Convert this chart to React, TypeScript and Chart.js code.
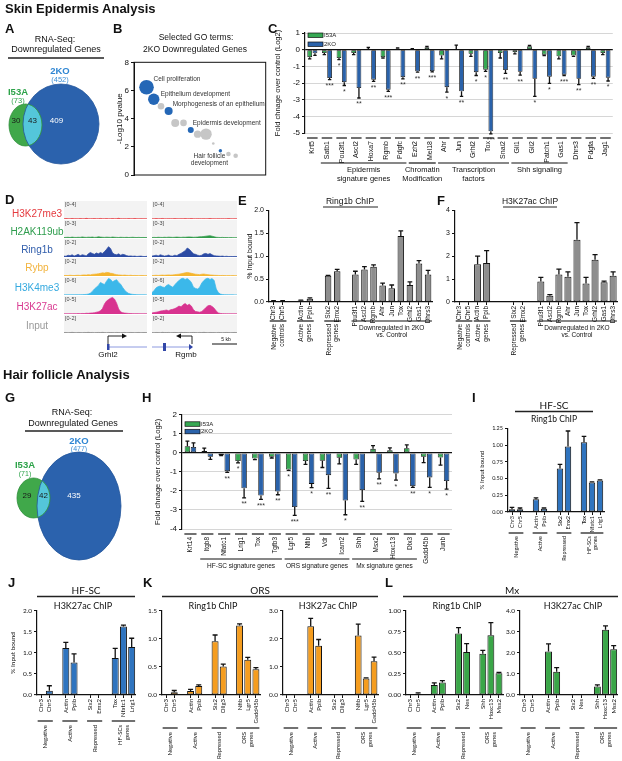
import React, { useEffect, useRef } from 'react';
import { Chart, registerables } from 'chart.js';
Chart.register(...registerables);

const SANS = '"Liberation Sans", Arial, sans-serif';
const HUM = 'Lato, "Liberation Sans", sans-serif';
Chart.defaults.font.family = SANS;
Chart.defaults.color = '#111';

// ---------------- DATA ----------------
// Venn A / G
const vennANames = ['I53A', '2KO'];
const vennATotals = [73, 452];
const vennAParts = [30, 43, 409];
const vennGTotals = [71, 477];
const vennGParts = [29, 42, 435];

// B: GO terms bubbles
const goTerms = ['Cell proliferation', 'Epithelium development', '', 'Morphogenesis of an epithelium', '', '', 'Epidermis development', '', '', '', 'Hair follicle|development', '', ''];
const goX = [9.5, 15.0, 20.5, 26.3, 31.3, 37.6, 43.1, 48.3, 54.7, 60.2, 65.6, 71.7, 77.2];
const goY = [6.23, 5.38, 4.88, 4.55, 3.7, 3.7, 3.19, 2.9, 2.9, 2.24, 1.72, 1.49, 1.37];
const goR = [7.3, 5.7, 3.3, 4, 4, 3.3, 3, 3.7, 5.7, 1.3, 1.7, 2.3, 2.3];
const goSig = [1, 1, 0, 1, 0, 0, 1, 0, 0, 0, 1, 0, 0];

// C: skin fold change
const cGenes = ['Krt5', 'Satb1', 'Pou3f1', 'Ascl2', 'Hoxa7', 'Rgmb', 'Pdgfc', 'Ezh2', 'Mel18', 'Ahr', 'Jun', 'Grhl2', 'Tox', 'Snai2', 'Gli1', 'Gli2', 'Patch1', 'Gas1', 'Dhrs3', 'Pdgfa', 'Jag1'];
const cI53A = [-0.45, -0.2, -0.5, -0.2, 0.03, -0.45, 0.05, 0.03, 0.15, -0.35, 0.02, -0.25, -1.2, -0.2, -0.15, 0.2, -0.3, -0.4, -0.35, 0.15, -0.2];
const cI53AErr = [0.1, 0.1, 0.1, 0.1, 0.1, 0.05, 0.05, 0.03, 0.05, 0.2, 0.25, 0.15, 0.1, 0.3, 0.1, 0.05, 0.05, 0.15, 0.05, 0.05, 0.1];
const c2KO = [-0.22, -1.7, -1.95, -2.3, -1.8, -2.4, -1.65, -1.3, -1.28, -2.25, -2.5, -1.35, -4.9, -1.22, -1.33, -1.75, -1.62, -1.5, -1.75, -1.62, -1.68];
const c2KOErr = [0.12, 0.1, 0.2, 0.6, 0.1, 0.1, 0.1, 0.05, 0.05, 0.3, 0.3, 0.2, 0.15, 0.2, 0.2, 1.05, 0.4, 0.05, 0.35, 0.1, 0.2];
const cI53AStars = ['', '', '*', '', '', '', '', '', '', '', '', '', '*', '', '', '', '', '', '', '', ''];
const c2KOStars = ['', '***', '*', '**', '**', '***', '**', '**', '***', '*', '**', '*', '***', '**', '**', '*', '*', '***', '**', '**', '*'];
const cGroups = [
  { from: 1, to: 6, lines: ['Epidermis', 'signature genes'], rot: false },
  { from: 7, to: 8, lines: ['Chromatin', 'Modification'], rot: false },
  { from: 9, to: 13, lines: ['Transcription', 'factors'], rot: false },
  { from: 14, to: 17, lines: ['Shh signaling'], rot: false },
];

// D: genome tracks
const trackNames = ['H3K27me3', 'H2AK119ub', 'Ring1b', 'Rybp', 'H3K4me3', 'H3K27ac', 'Input'];
const trackMax = [4, 3, 2, 2, 6, 5, 2];
const grhl2K27me3 = [0.05, 0.1, 0.06, 0.04, 0.12, 0.05, 0.08, 0.04, 0.1, 0.06, 0.05, 0.14, 0.06, 0.05, 0.08, 0.1, 0.05, 0.07, 0.12, 0.06, 0.05, 0.09, 0.04, 0.06, 0.1, 0.05, 0.08, 0.15, 0.06, 0.05, 0.07, 0.04, 0.09, 0.05, 0.06, 0.12, 0.05, 0.04, 0.08, 0.05, 0.06, 0.04];
const grhl2H2a = [0.08, 0.1, 0.12, 0.08, 0.15, 0.1, 0.09, 0.12, 0.1, 0.18, 0.12, 0.1, 0.14, 0.12, 0.16, 0.1, 0.12, 0.2, 0.15, 0.12, 0.1, 0.14, 0.12, 0.1, 0.16, 0.12, 0.1, 0.08, 0.12, 0.1, 0.09, 0.11, 0.08, 0.1, 0.12, 0.09, 0.08, 0.1, 0.07, 0.09, 0.08, 0.07];
const grhl2Ring1b = [0.1, 0.08, 0.2, 0.15, 0.25, 0.1, 0.2, 0.3, 0.15, 0.25, 0.2, 0.12, 0.35, 0.5, 0.4, 0.3, 0.45, 0.35, 0.5, 0.4, 0.6, 0.85, 1.15, 0.95, 0.45, 0.3, 0.25, 0.35, 0.2, 0.3, 0.25, 0.15, 0.1, 0.12, 0.08, 0.1, 0.06, 0.08, 0.1, 0.06, 0.05, 0.08];
const grhl2Rybp = [0.05, 0.06, 0.05, 0.08, 0.06, 0.05, 0.07, 0.08, 0.06, 0.1, 0.12, 0.1, 0.15, 0.12, 0.18, 0.2, 0.22, 0.25, 0.3, 0.35, 0.32, 0.4, 0.38, 0.3, 0.28, 0.2, 0.15, 0.12, 0.1, 0.08, 0.1, 0.07, 0.06, 0.08, 0.05, 0.06, 0.05, 0.04, 0.06, 0.05, 0.04, 0.05];
const grhl2K4me3 = [0.05, 0.05, 0.06, 0.05, 0.08, 0.06, 0.1, 0.08, 0.1, 0.12, 0.15, 0.2, 0.3, 0.6, 1.2, 2.0, 2.6, 3.2, 4.2, 3.8, 3.5, 4.6, 5.5, 5.2, 4.4, 4.8, 5.1, 4.2, 3.6, 2.5, 1.6, 0.9, 0.5, 0.3, 0.2, 0.15, 0.1, 0.08, 0.06, 0.05, 0.05, 0.04];
const grhl2K27ac = [0.05, 0.06, 0.05, 0.08, 0.06, 0.1, 0.08, 0.12, 0.1, 0.15, 0.12, 0.2, 0.18, 0.25, 0.3, 0.35, 0.5, 0.6, 0.9, 1.5, 2.8, 3.6, 4.0, 4.4, 4.6, 4.1, 3.0, 1.4, 0.6, 0.35, 0.25, 0.2, 0.15, 0.12, 0.1, 0.08, 0.1, 0.07, 0.06, 0.05, 0.06, 0.05];
const grhl2Input = [0.05, 0.06, 0.04, 0.05, 0.07, 0.05, 0.04, 0.06, 0.05, 0.04, 0.06, 0.05, 0.07, 0.05, 0.06, 0.04, 0.05, 0.06, 0.05, 0.07, 0.05, 0.04, 0.06, 0.05, 0.05, 0.04, 0.06, 0.05, 0.04, 0.05, 0.06, 0.04, 0.05, 0.06, 0.05, 0.04, 0.05, 0.06, 0.04, 0.05, 0.05, 0.04];
const rgmbK27me3 = [0.06, 0.04, 0.1, 0.05, 0.07, 0.12, 0.05, 0.04, 0.08, 0.06, 0.05, 0.1, 0.06, 0.04, 0.07, 0.05, 0.09, 0.05, 0.06, 0.11, 0.05, 0.04, 0.07, 0.06, 0.05, 0.08, 0.04, 0.06, 0.12, 0.05, 0.06, 0.04, 0.08, 0.05, 0.07, 0.04, 0.06, 0.1, 0.05, 0.04, 0.06, 0.05];
const rgmbH2a = [0.08, 0.1, 0.08, 0.12, 0.1, 0.09, 0.12, 0.1, 0.14, 0.12, 0.1, 0.12, 0.15, 0.12, 0.1, 0.14, 0.12, 0.16, 0.18, 0.15, 0.12, 0.14, 0.16, 0.2, 0.22, 0.25, 0.3, 0.35, 0.38, 0.3, 0.2, 0.12, 0.1, 0.08, 0.1, 0.07, 0.08, 0.06, 0.07, 0.06, 0.05, 0.06];
const rgmbRing1b = [0.1, 0.15, 0.2, 0.12, 0.25, 0.18, 0.1, 0.15, 0.22, 0.12, 0.1, 0.2, 0.15, 0.3, 0.4, 0.55, 0.7, 1.0, 0.85, 0.6, 0.35, 0.3, 0.2, 0.15, 0.2, 0.35, 0.4, 0.3, 0.38, 0.25, 0.15, 0.12, 0.1, 0.08, 0.1, 0.06, 0.08, 0.05, 0.06, 0.05, 0.06, 0.05];
const rgmbRybp = [0.05, 0.06, 0.08, 0.06, 0.08, 0.1, 0.08, 0.1, 0.12, 0.1, 0.12, 0.15, 0.18, 0.2, 0.25, 0.3, 0.35, 0.4, 0.35, 0.3, 0.25, 0.2, 0.18, 0.15, 0.2, 0.22, 0.18, 0.15, 0.12, 0.1, 0.08, 0.07, 0.06, 0.05, 0.06, 0.05, 0.04, 0.05, 0.04, 0.05, 0.04, 0.04];
const rgmbK4me3 = [0.8, 1.5, 2.4, 2.8, 3.0, 2.7, 2.5, 3.2, 3.5, 3.0, 2.6, 3.4, 4.2, 4.8, 5.4, 5.6, 5.2, 5.5, 5.0, 4.2, 2.6, 2.2, 2.0, 2.6, 4.0, 4.8, 5.4, 5.6, 5.2, 5.5, 4.8, 2.0, 0.8, 0.3, 0.15, 0.1, 0.08, 0.06, 0.05, 0.05, 0.04, 0.04];
const rgmbK27ac = [0.3, 0.4, 0.5, 0.6, 0.8, 0.9, 1.0, 1.1, 0.9, 1.2, 1.3, 1.5, 1.8, 2.2, 2.0, 2.6, 2.9, 2.4, 2.7, 2.2, 1.2, 0.7, 0.6, 0.5, 0.7, 1.2, 1.8, 2.3, 2.4, 2.1, 1.6, 0.8, 0.3, 0.15, 0.1, 0.08, 0.06, 0.05, 0.05, 0.04, 0.04, 0.04];
const rgmbInput = [0.05, 0.04, 0.06, 0.05, 0.04, 0.07, 0.05, 0.05, 0.06, 0.04, 0.05, 0.06, 0.05, 0.04, 0.07, 0.05, 0.06, 0.05, 0.04, 0.05, 0.06, 0.05, 0.04, 0.06, 0.05, 0.07, 0.05, 0.04, 0.06, 0.05, 0.05, 0.04, 0.06, 0.05, 0.04, 0.05, 0.06, 0.05, 0.04, 0.05, 0.06, 0.04];
const grhl2Tracks = [grhl2K27me3, grhl2H2a, grhl2Ring1b, grhl2Rybp, grhl2K4me3, grhl2K27ac, grhl2Input];
const rgmbTracks = [rgmbK27me3, rgmbH2a, rgmbRing1b, rgmbRybp, rgmbK4me3, rgmbK27ac, rgmbInput];

// E / F
const eLabels = ['Chr3', 'Chr5', '', 'Actin', 'Ppib', '', 'Six2', 'Emx2', '', 'Pou3f1', 'Ascl2', 'Rgmb', 'Ahr', 'Jun', 'Tox', 'Grhl2', 'Gas1', 'Dhrs3'];
const eVals = [0.02, 0.02, null, 0.03, 0.07, null, 0.57, 0.67, null, 0.6, 0.71, 0.77, 0.36, 0.3, 1.44, 0.37, 0.84, 0.6];
const eErr = [0.01, 0.01, 0, 0.01, 0.02, 0, 0.01, 0.04, 0, 0.07, 0.06, 0.04, 0.05, 0.07, 0.11, 0.07, 0.06, 0.09];
const eGroups = [
  { from: 0, to: 1, lines: ['Negative', 'controls'], rot: true },
  { from: 3, to: 4, lines: ['Active', 'genes'], rot: true },
  { from: 6, to: 7, lines: ['Repressed', 'genes'], rot: true },
  { from: 9, to: 17, lines: ['Downregulated in 2KO', 'vs. Control'], rot: false, dy: 26 },
];
const fLabels = ['Chr3', 'Chr5', 'Actin', 'Ppib', '', '', 'Six2', 'Emx2', '', 'Pou3f1', 'Ascl2', 'Rgmb', 'Ahr', 'Jun', 'Tox', 'Grhl2', 'Gas1', 'Dhrs3'];
const fVals = [0, 0, 1.64, 1.7, null, null, 0, 0, null, 0.89, 0.27, 1.2, 1.1, 2.71, 0.81, 1.84, 0.86, 1.14];
const fErr = [0, 0, 0.36, 0.54, 0, 0, 0, 0, 0, 0.18, 0.05, 0.23, 0.21, 0.75, 0.26, 0.22, 0.05, 0.17];
const fGroups = [
  { from: 0, to: 1, lines: ['Negative', 'controls'], rot: true },
  { from: 2, to: 3, lines: ['Active', 'genes'], rot: true },
  { from: 6, to: 7, lines: ['Repressed', 'genes'], rot: true },
  { from: 9, to: 17, lines: ['Downregulated in 2KO', 'vs. Control'], rot: false, dy: 26 },
];

// H: hair follicle fold change
const hGenes = ['Krt14', 'Itgb8', 'Nfatc1', 'Lrig1', 'Tox', 'Tgfb3', 'Lgr5', 'Nfib', 'Vdr', 'Icam2', 'Shh', 'Msx2', 'Hoxc13', 'Dlx3', 'Gadd45b', 'Junb'];
const hI53A = [0.35, 0.1, -0.12, -0.43, -0.3, -0.21, -0.87, -0.43, -0.42, -0.26, -0.35, 0.21, 0.14, 0.24, -0.21, -0.24];
const hI53AErr = [0.27, 0.15, 0.03, 0.1, 0.05, 0.06, 0.05, 0.17, 0.35, 0.32, 0.25, 0.17, 0.12, 0.18, 0.3, 0.4];
const h2KO = [0.31, -0.21, -0.96, -1.86, -2.24, -2.03, -2.85, -1.63, -1.17, -2.5, -1.95, -1.04, -1.08, -1.74, -1.29, -1.48];
const h2KOErr = [0.21, 0.13, 0.06, 0.5, 0.2, 0.17, 0.43, 0.2, 0.7, 0.75, 0.6, 0.33, 0.35, 0.07, 0.52, 0.43];
const hI53AStars = ['', '', '', '*', '', '', '*', '', '', '', '', '', '', '', '', ''];
const h2KOStars = ['', '', '**', '**', '***', '**', '***', '*', '**', '*', '**', '**', '*', '**', '*', '*'];
const hGroups = [
  { from: 1, to: 5, lines: ['HF-SC signature genes'], rot: false },
  { from: 6, to: 9, lines: ['ORS signature genes'], rot: false },
  { from: 10, to: 13, lines: ['Mx signature genes'], rot: false },
];

// I / J: HF-SC
const hfscLabels = ['Chr3', 'Chr5', '', 'Actin', 'Ppib', '', 'Six2', 'Emx2', '', 'Tox', 'Nfatc1', 'Lrig1'];
const iRing1b = [0.04, 0.04, null, 0.19, 0.05, null, 0.65, 0.98, null, 1.04, 0.44, 0.47];
const iRing1bErr = [0.03, 0.02, 0, 0.02, 0.01, 0, 0.06, 0.23, 0, 0.09, 0.01, 0.01];
const jK27ac = [0, 0.1, null, 1.12, 0.77, null, 0, 0.005, null, 0.88, 1.63, 1.14];
const jK27acErr = [0, 0.12, 0, 0.13, 0.21, 0, 0, 0, 0, 0.23, 0.03, 0.21];
const hfscGroups = [
  { from: 0, to: 1, lines: ['Negative'], rot: true },
  { from: 3, to: 4, lines: ['Active'], rot: true },
  { from: 6, to: 7, lines: ['Repressed'], rot: true },
  { from: 9, to: 11, lines: ['HF-SCs', 'genes'], rot: true },
];

// K: ORS
const orsLabels = ['Chr3', 'Chr5', '', 'Actin', 'Ppib', '', 'Six2', 'Olig3', '', 'Nfib', 'Lgr5', 'Gadd45b'];
const kRing1b = [0, 0.05, null, 0.07, 0.16, null, 0.96, 0.51, null, 1.24, 0.63, 0.46];
const kRing1bErr = [0, 0.03, 0, 0.03, 0.02, 0, 0.11, 0.04, 0, 0.03, 0.04, 0.03];
const kK27ac = [0, 0, null, 2.45, 1.76, null, 0, 0, null, 2.12, 0.59, 1.2];
const kK27acErr = [0, 0, 0, 0.28, 0.22, 0, 0, 0, 0, 0.41, 0.02, 0.15];
const orsGroups = [
  { from: 0, to: 1, lines: ['Negative'], rot: true },
  { from: 3, to: 4, lines: ['Active'], rot: true },
  { from: 6, to: 7, lines: ['Repressed'], rot: true },
  { from: 9, to: 11, lines: ['ORS', 'genes'], rot: true },
];

// L: Mx
const mxLabels = ['Chr3', 'Chr5', '', 'Actin', 'Ppib', '', 'Six2', 'Nes', '', 'Shh', 'Hoxc13', 'Msx2'];
const lRing1b = [0.005, 0.015, null, 0.12, 0.15, null, 0.73, 0.51, null, 0.49, 0.71, 0.26];
const lRing1bErr = [0, 0.01, 0, 0.025, 0.02, 0, 0.07, 0.1, 0, 0.04, 0.15, 0.01];
const lK27ac = [0, 0, null, 2.07, 1.1, null, 0.01, 0, null, 0.41, 3.1, 2.18];
const lK27acErr = [0, 0, 0, 0.36, 0.2, 0, 0, 0, 0, 0.07, 0.19, 0.17];

// ---------------- STYLE ----------------
const GREEN = '#36a853';
const BLUE = '#2a62aa';
const GRAY = '#8e8e8e';
const BLUE2 = '#2f74bf';
const ORANGE = '#f59d1f';
const GREEN2 = '#3aa648';
const trackColors = ['#e8383d', '#2f9a48', '#2b4aa3', '#f5b52e', '#3bb8ea', '#d8338f', '#8a8a8a'];
const trackLabelColors = ['#e53a3f', '#2e9d4d', '#2f5cab', '#f2b33d', '#35a9df', '#d93a91', '#9a9a9a'];

type Series = { data: (number | null)[]; err: number[]; color: string; stars?: string[] };
type Group = { from: number; to: number; lines: string[]; rot: boolean; dy?: number };

function barExtras(s: any) {
  return {
    id: 'barExtras',
    afterDraw(chart: any) {
      const ctx: CanvasRenderingContext2D = chart.ctx;
      const ca = chart.chartArea;
      const xs = chart.scales.x;
      const ys = chart.scales.y;
      const fam = s.family || SANS;
      const slot = xs.getPixelForTick(1) - xs.getPixelForTick(0);
      ctx.save();
      if (s.segAxis) {
        ctx.strokeStyle = '#111';
        ctx.lineWidth = 1.2;
        s.labels.forEach((lb: string, i: number) => {
          if (!lb) return;
          const px = xs.getPixelForTick(i);
          ctx.beginPath();
          ctx.moveTo(px - slot * 0.36, ca.bottom + 5);
          ctx.lineTo(px + slot * 0.36, ca.bottom + 5);
          ctx.stroke();
        });
      }
      s.series.forEach((se: Series, di: number) => {
        const meta = chart.getDatasetMeta(di);
        meta.data.forEach((el: any, i: number) => {
          const v = se.data[i];
          if (v === null || v === undefined) return;
          const e = se.err[i] || 0;
          const dir = v < 0 ? -1 : 1;
          const y0 = ys.getPixelForValue(v);
          const y1 = ys.getPixelForValue(v + dir * e);
          if (e > 0) {
            const hw = el.width * 0.36;
            ctx.strokeStyle = '#111';
            ctx.lineWidth = 1.3;
            ctx.beginPath();
            ctx.moveTo(el.x, y0);
            ctx.lineTo(el.x, y1);
            ctx.moveTo(el.x - hw, y1);
            ctx.lineTo(el.x + hw, y1);
            ctx.stroke();
          }
          const st = se.stars && se.stars[i];
          if (st) {
            ctx.fillStyle = '#333';
            ctx.font = `7px ${fam}`;
            ctx.textAlign = 'center';
            ctx.textBaseline = 'middle';
            ctx.fillText(st, el.x, y1 + 6.5);
          }
        });
      });
      if (s.legend) {
        const [lx, ly, step] = s.legendPos;
        s.legend.forEach((name: string, k: number) => {
          const x0 = ca.left + lx;
          const y0 = ca.top + ly + k * step;
          ctx.fillStyle = s.series[k].color;
          ctx.fillRect(x0, y0, 15, 4.5);
          ctx.strokeStyle = '#111';
          ctx.lineWidth = 0.7;
          ctx.strokeRect(x0, y0, 15, 4.5);
          ctx.fillStyle = '#222';
          ctx.font = `6px ${fam}`;
          ctx.textAlign = 'left';
          ctx.textBaseline = 'middle';
          ctx.fillText(name, x0 + 16, y0 + 2.5);
        });
      }
      if (s.groups) {
        ctx.fillStyle = '#111';
        ctx.strokeStyle = '#111';
        ctx.lineWidth = 1.2;
        ctx.font = `${s.gSize}px ${fam}`;
        s.groups.forEach((g: Group) => {
          const x1 = xs.getPixelForTick(g.from) - slot * 0.42;
          const x2 = xs.getPixelForTick(g.to) + slot * 0.42;
          const ly = ca.bottom + s.gLineDy;
          ctx.beginPath();
          ctx.moveTo(x1, ly);
          ctx.lineTo(x2, ly);
          ctx.stroke();
          const cx = (x1 + x2) / 2;
          const n = g.lines.length;
          g.lines.forEach((tx, k) => {
            if (g.rot) {
              const px = cx + (k - (n - 1) / 2) * s.gLH;
              ctx.save();
              ctx.translate(px, ca.bottom + s.gTextDy);
              ctx.rotate(-Math.PI / 2);
              ctx.textAlign = 'right';
              ctx.textBaseline = 'middle';
              ctx.fillText(tx, 0, 0);
              ctx.restore();
            } else {
              ctx.textAlign = 'center';
              ctx.textBaseline = 'middle';
              ctx.fillText(tx, cx, ca.bottom + (g.dy ?? s.gTextDy) + k * s.gLH);
            }
          });
        });
      }
      ctx.restore();
    },
  };
}

function buildBar(c: HTMLCanvasElement, s: any) {
  const [bx, by, bw, bh] = s.box;
  const [l, t, r, b] = s.area;
  const XH = 35;
  const fam = s.family || SANS;
  const yW = l - bx;
  return new Chart(c, {
    type: 'bar',
    data: {
      labels: s.labels,
      datasets: s.series.map((se: Series) => ({
        data: se.data,
        backgroundColor: se.color,
        borderColor: '#111',
        borderWidth: s.bw ?? 1,
        borderSkipped: false,
        barPercentage: s.barPct,
        categoryPercentage: s.catPct,
      })),
    },
    options: {
      animation: false,
      responsive: false,
      maintainAspectRatio: false,
      devicePixelRatio: 1,
      events: [],
      layout: { padding: { left: 0, top: t - by, right: bx + bw - r, bottom: by + bh - b - XH } },
      plugins: { legend: { display: false }, tooltip: { enabled: false } },
      scales: {
        x: {
          grid: {
            display: !s.segAxis,
            drawOnChartArea: false,
            drawTicks: !s.segAxis,
            offset: false,
            tickLength: 3,
            lineWidth: 1,
            color: (ctx: any) => (s.labels[ctx.index] ? '#111' : 'rgba(0,0,0,0)'),
          },
          border: { display: !s.segAxis, color: '#111', width: 1.2 },
          ticks: {
            autoSkip: false,
            minRotation: 90,
            maxRotation: 90,
            padding: s.segAxis ? 8 : 1,
            color: '#111',
            font: { size: s.xSize, family: fam },
          },
          afterFit: (sc: any) => {
            sc.height = XH;
          },
        },
        y: {
          min: s.yMin,
          max: s.yMax,
          ticks: {
            stepSize: s.yStep,
            color: '#111',
            padding: 2,
            font: { size: s.tickSize, family: fam },
            callback: (v: any) => Number(v).toFixed(s.yDec),
          },
          grid: {
            drawOnChartArea: !!s.hGrid,
            tickLength: 3,
            tickColor: '#111',
            tickWidth: 1,
            color: (ctx: any) => (ctx.tick && ctx.tick.value === 0 ? '#111' : '#cccccc'),
            lineWidth: (ctx: any) => (ctx.tick && ctx.tick.value === 0 ? 1.2 : 0.8),
          },
          border: { color: '#111', width: 1.2 },
          title: s.yTitle
            ? { display: true, text: s.yTitle, color: '#111', font: { size: s.yTitleSize, family: fam }, padding: { top: s.yTitleOff, bottom: 0 } }
            : { display: false },
          afterFit: (sc: any) => {
            sc.width = yW;
          },
        },
      },
    },
    plugins: [barExtras(s)],
  } as any);
}

function buildVenn(c: HTMLCanvasElement, v: any) {
  return new Chart(c, {
    type: 'scatter',
    data: { datasets: [{ data: [] }] },
    options: {
      animation: false,
      responsive: false,
      devicePixelRatio: 1,
      events: [],
      layout: { padding: 0 },
      plugins: { legend: { display: false }, tooltip: { enabled: false } },
      scales: {
        x: { type: 'linear', min: 0, max: v.w, display: false },
        y: { type: 'linear', min: 0, max: v.h, reverse: true, display: false },
      },
    },
    plugins: [
      {
        id: 'venn',
        afterDraw(chart: any) {
          const ctx: CanvasRenderingContext2D = chart.ctx;
          const xs = chart.scales.x;
          const ys = chart.scales.y;
          const ell = (cc: number[]) => {
            const cx = xs.getPixelForValue(cc[0]);
            const cy = ys.getPixelForValue(cc[1]);
            const rx = xs.getPixelForValue(cc[0] + cc[2]) - cx;
            const ry = Math.abs(ys.getPixelForValue(cc[1] + cc[3]) - cy);
            ctx.beginPath();
            ctx.ellipse(cx, cy, rx, ry, 0, 0, Math.PI * 2);
            return { cx, cy, rx, ry };
          };
          ctx.save();
          const B = ell(v.circles[1]);
          ctx.fillStyle = '#2b62ad';
          ctx.fill();
          const G = ell(v.circles[0]);
          ctx.fillStyle = '#40a84a';
          ctx.fill();
          ctx.save();
          ell(v.circles[0]);
          ctx.clip();
          ell(v.circles[1]);
          ctx.fillStyle = '#54c6da';
          ctx.fill();
          ctx.restore();
          ctx.lineWidth = 0.8;
          ell(v.circles[1]);
          ctx.strokeStyle = '#24579c';
          ctx.stroke();
          ell(v.circles[0]);
          ctx.strokeStyle = '#2f8f3b';
          ctx.stroke();
          ctx.font = `8px ${SANS}`;
          ctx.textAlign = 'center';
          ctx.textBaseline = 'middle';
          const ly = G.cy + v.labelDy;
          ctx.fillStyle = '#1a1a1a';
          ctx.fillText(String(v.parts[0]), (G.cx - G.rx + (B.cx - B.rx)) / 2, ly);
          ctx.fillText(String(v.parts[1]), (B.cx - B.rx + (G.cx + G.rx)) / 2, ly);
          ctx.fillStyle = '#ffffff';
          ctx.fillText(String(v.parts[2]), B.cx - 0.12 * B.rx, ly);
          ctx.restore();
        },
      },
    ],
  } as any);
}

const goLabelStyle: any = {
  0: [7, -8, 'left'],
  1: [7, -5, 'left'],
  3: [4, -7, 'left'],
  6: [2, -7, 'left'],
  10: [-11, 5, 'center'],
};

function buildGO(c: HTMLCanvasElement) {
  return new Chart(c, {
    type: 'bubble',
    data: {
      datasets: [
        {
          data: goX.map((x, i) => ({ x, y: goY[i], r: goR[i] })),
          backgroundColor: goSig.map((s) => (s ? '#2467b6' : '#c6c6c6')),
          borderWidth: 0,
        },
      ],
    },
    options: {
      animation: false,
      responsive: false,
      devicePixelRatio: 1,
      events: [],
      layout: { padding: { left: 0, top: 7, right: 6, bottom: 10 } },
      plugins: { legend: { display: false }, tooltip: { enabled: false } },
      scales: {
        x: { type: 'linear', min: 0, max: 100, display: false },
        y: {
          min: 0,
          max: 8,
          ticks: { stepSize: 2, color: '#111', padding: 2, font: { size: 8 } },
          grid: { drawOnChartArea: false, tickLength: 3, color: '#111', tickColor: '#111' },
          border: { color: '#111', width: 1 },
          title: { display: true, text: '-Log10 pvalue', color: '#111', font: { size: 8 }, padding: { top: 2.2, bottom: 0 } },
          afterFit: (sc: any) => {
            sc.width = 21;
          },
        },
      },
    },
    plugins: [
      {
        id: 'goExtras',
        afterDraw(chart: any) {
          const ctx: CanvasRenderingContext2D = chart.ctx;
          const a = chart.chartArea;
          ctx.save();
          ctx.strokeStyle = '#111';
          ctx.lineWidth = 1;
          ctx.strokeRect(a.left, a.top, a.right - a.left, a.bottom - a.top);
          const meta = chart.getDatasetMeta(0);
          ctx.fillStyle = '#333';
          ctx.font = `6.5px ${SANS}`;
          ctx.textBaseline = 'middle';
          goTerms.forEach((term, i) => {
            if (!term) return;
            const st = goLabelStyle[i];
            const el = meta.data[i];
            ctx.textAlign = st[2];
            term.split('|').forEach((ln, k) => {
              ctx.fillText(ln, el.x + st[0], el.y + st[1] + k * 7.5);
            });
          });
          ctx.restore();
        },
      },
    ],
  } as any);
}

function buildTrack(c: HTMLCanvasElement, data: number[], color: string, max: number) {
  return new Chart(c, {
    type: 'line',
    data: {
      labels: data.map((_, i) => String(i)),
      datasets: [{ data, borderColor: color, backgroundColor: color, borderWidth: 0.7, fill: 'origin', pointRadius: 0, tension: 0 }],
    },
    options: {
      animation: false,
      responsive: false,
      devicePixelRatio: 1,
      events: [],
      layout: { padding: 0 },
      plugins: { legend: { display: false }, tooltip: { enabled: false } },
      scales: { x: { display: false, offset: false }, y: { display: false, min: 0, max } },
    },
    plugins: [
      {
        id: 'trackBg',
        beforeDatasetsDraw(chart: any) {
          const { ctx, chartArea: a } = chart;
          ctx.save();
          ctx.fillStyle = '#f3f3f3';
          ctx.fillRect(a.left, a.top, a.right - a.left, a.bottom - a.top);
          ctx.restore();
        },
      },
    ],
  } as any);
}

function ChartBox({ x, y, w, h, build }: any) {
  const ref = useRef<HTMLCanvasElement | null>(null);
  useEffect(() => {
    if (!ref.current) return;
    const ch = build(ref.current);
    return () => ch.destroy();
  }, []);
  return <canvas ref={ref} width={w} height={h} style={{ position: 'absolute', left: x, top: y, width: w, height: h }} />;
}

function T({ x, y, s, c = '#111', b = false, a = 'left', f = SANS, children }: any) {
  const tx = a === 'center' ? 'translateX(-50%)' : a === 'right' ? 'translateX(-100%)' : 'none';
  return (
    <div
      style={{
        position: 'absolute',
        left: x,
        top: y - 0.86 * s,
        fontSize: s,
        lineHeight: `${s}px`,
        fontWeight: b ? 700 : 400,
        color: c,
        fontFamily: f,
        whiteSpace: 'nowrap',
        transform: tx,
      }}
    >
      {children}
    </div>
  );
}

// ---------------- SPECS ----------------
const specC = {
  box: [268, 26, 354, 166], area: [305, 33, 616, 133], labels: cGenes,
  series: [
    { data: cI53A, err: cI53AErr, color: GREEN, stars: cI53AStars },
    { data: c2KO, err: c2KOErr, color: BLUE, stars: c2KOStars },
  ],
  yMin: -5, yMax: 1, yStep: 1, yDec: 0, tickSize: 8, xSize: 7,
  yTitle: 'Fold chnage over control (Log2)', yTitleSize: 7.5, yTitleOff: 5.5,
  hGrid: true, segAxis: true, barPct: 0.9, catPct: 0.72, bw: 0.8,
  legend: vennANames, legendPos: [3, 0, 9],
  groups: cGroups, gLineDy: 30, gTextDy: 37, gSize: 7.5, gLH: 9,
};
const specH = {
  box: [145, 408, 315, 180], area: [182, 414, 452, 529], labels: hGenes,
  series: [
    { data: hI53A, err: hI53AErr, color: GREEN, stars: hI53AStars },
    { data: h2KO, err: h2KOErr, color: BLUE, stars: h2KOStars },
  ],
  yMin: -4, yMax: 2, yStep: 1, yDec: 0, tickSize: 8, xSize: 6.5,
  yTitle: 'Fold chnage over control (Log2)', yTitleSize: 7.5, yTitleOff: 8.5,
  hGrid: true, segAxis: true, barPct: 0.9, catPct: 0.72, bw: 0.8,
  legend: vennANames, legendPos: [3, 7, 7.5],
  groups: hGroups, gLineDy: 30, gTextDy: 37, gSize: 6.5, gLH: 8,
};
const specE = {
  box: [238, 204, 199, 156], area: [269, 209, 433, 302], labels: eLabels,
  series: [{ data: eVals, err: eErr, color: GRAY }],
  yMin: 0, yMax: 2, yStep: 0.5, yDec: 1, tickSize: 7, xSize: 6.5,
  yTitle: '% Input bound', yTitleSize: 7, yTitleOff: 7.8,
  barPct: 0.72, catPct: 1, groups: eGroups, gLineDy: 19, gTextDy: 22, gSize: 6.5, gLH: 7.5,
};
const specF = {
  box: [437, 204, 185, 156], area: [455, 209, 619, 302], labels: fLabels,
  series: [{ data: fVals, err: fErr, color: GRAY }],
  yMin: 0, yMax: 4, yStep: 1, yDec: 0, tickSize: 7, xSize: 6.5,
  barPct: 0.78, catPct: 1, groups: fGroups, gLineDy: 19, gTextDy: 22, gSize: 6.5, gLH: 7.5,
};
const specI = {
  box: [470, 423, 140, 140], area: [508, 428, 604, 512], labels: hfscLabels, family: HUM,
  series: [{ data: iRing1b, err: iRing1bErr, color: BLUE2 }],
  yMin: 0, yMax: 1.25, yStep: 0.25, yDec: 2, tickSize: 5.5, xSize: 5.5,
  yTitle: '% Input bound', yTitleSize: 6, yTitleOff: 8.4,
  barPct: 0.8, catPct: 1, groups: hfscGroups, gLineDy: 21, gTextDy: 24, gSize: 5.5, gLH: 6,
};
const specJ = {
  box: [0, 605, 140, 156], area: [37, 610, 137, 695], labels: hfscLabels, family: HUM,
  series: [{ data: jK27ac, err: jK27acErr, color: BLUE2 }],
  yMin: 0, yMax: 2, yStep: 0.5, yDec: 1, tickSize: 6.5, xSize: 6,
  yTitle: '% Input bound', yTitleSize: 6.5, yTitleOff: 9.1,
  barPct: 0.85, catPct: 1, groups: hfscGroups, gLineDy: 26, gTextDy: 30, gSize: 6, gLH: 7,
};
const specK1 = {
  box: [140, 605, 125, 156], area: [162, 610, 260, 695], labels: orsLabels, family: HUM,
  series: [{ data: kRing1b, err: kRing1bErr, color: ORANGE }],
  yMin: 0, yMax: 1.5, yStep: 0.5, yDec: 1, tickSize: 6.5, xSize: 6,
  barPct: 0.85, catPct: 1, groups: orsGroups, gLineDy: 33, gTextDy: 37, gSize: 6, gLH: 7,
};
const specK2 = {
  box: [265, 605, 118, 156], area: [283, 610, 378, 695], labels: orsLabels, family: HUM,
  series: [{ data: kK27ac, err: kK27acErr, color: ORANGE }],
  yMin: 0, yMax: 3, yStep: 1, yDec: 1, tickSize: 6.5, xSize: 6,
  barPct: 0.85, catPct: 1, groups: orsGroups, gLineDy: 33, gTextDy: 37, gSize: 6, gLH: 7,
};
const specL1 = {
  box: [383, 605, 125, 156], area: [406, 610, 503, 695], labels: mxLabels, family: HUM,
  series: [{ data: lRing1b, err: lRing1bErr, color: GREEN2 }],
  yMin: 0, yMax: 1, yStep: 0.25, yDec: 2, tickSize: 6.5, xSize: 6,
  barPct: 0.85, catPct: 1, groups: orsGroups, gLineDy: 33, gTextDy: 37, gSize: 6, gLH: 7,
};
const specL2 = {
  box: [504, 605, 118, 156], area: [520, 610, 619, 695], labels: mxLabels, family: HUM,
  series: [{ data: lK27ac, err: lK27acErr, color: GREEN2 }],
  yMin: 0, yMax: 4, yStep: 1, yDec: 1, tickSize: 6.5, xSize: 6,
  barPct: 0.85, catPct: 1, groups: orsGroups, gLineDy: 33, gTextDy: 37, gSize: 6, gLH: 7,
};

// circles: [cx, cy, rx, ry] in canvas units (layout only)
const vennA = { w: 110, h: 120, parts: vennAParts, circles: [[25.5, 70, 16.5, 21], [61, 69, 38, 40]], labelDy: -4 };
const vennG = { w: 140, h: 135, parts: vennGParts, circles: [[33.5, 68, 16.5, 20], [79, 76, 42, 54]], labelDy: -2 };

function BarBox({ spec }: any) {
  const [x, y, w, h] = spec.box;
  return <ChartBox x={x} y={y} w={w} h={h} build={(c: HTMLCanvasElement) => buildBar(c, spec)} />;
}

export default function App() {
  const trackBaselines = [218, 236, 254, 272, 292, 311, 329.5];
  return (
    <div
      style={{
        position: 'absolute', left: 0, top: 0, width: 622, height: 761,
        background: '#fff', overflow: 'hidden', fontFamily: SANS, color: '#111',
      }}
    >
      <ChartBox x={0} y={55} w={110} h={120} build={(c: HTMLCanvasElement) => buildVenn(c, vennA)} />
      <ChartBox x={0} y={430} w={140} h={135} build={(c: HTMLCanvasElement) => buildVenn(c, vennG)} />
      <ChartBox x={113} y={55} w={160} h={130} build={buildGO} />
      {grhl2Tracks.map((d, k) => (
        <ChartBox key={'l' + k} x={64} y={201 + 19 * k} w={83} h={18} build={(c: HTMLCanvasElement) => buildTrack(c, d, trackColors[k], trackMax[k])} />
      ))}
      {rgmbTracks.map((d, k) => (
        <ChartBox key={'r' + k} x={152} y={201 + 19 * k} w={85} h={18} build={(c: HTMLCanvasElement) => buildTrack(c, d, trackColors[k], trackMax[k])} />
      ))}
      <BarBox spec={specC} />
      <BarBox spec={specE} />
      <BarBox spec={specF} />
      <BarBox spec={specH} />
      <BarBox spec={specI} />
      <BarBox spec={specJ} />
      <BarBox spec={specK1} />
      <BarBox spec={specK2} />
      <BarBox spec={specL1} />
      <BarBox spec={specL2} />

      <svg width={622} height={761} style={{ position: 'absolute', left: 0, top: 0, pointerEvents: 'none' }}>
        <g stroke="#222" strokeWidth={1.5}>
          <line x1={8} y1={58} x2={104} y2={58} />
          <line x1={25} y1={431} x2={123} y2={431} />
          <line x1={515} y1={411.5} x2={593} y2={411.5} />
          <line x1={37} y1={596.5} x2={135} y2={596.5} />
          <line x1={162} y1={596.5} x2={378} y2={596.5} />
          <line x1={403} y1={596.5} x2={618} y2={596.5} />
        </g>
        <g stroke="#222" strokeWidth={1}>
          <line x1={323} y1={207} x2={378} y2={207} />
          <line x1={503} y1={207} x2={557} y2={207} />
        </g>
        <polyline points="108,344 108,336 123,336" fill="none" stroke="#111" strokeWidth={0.9} />
        <polygon points="122,333.5 127,336 122,338.5" fill="#111" />
        <line x1={108} y1={347} x2={147} y2={347} stroke="#8d9ae0" strokeWidth={1} />
        <rect x={107} y={344} width={2.5} height={6} fill="#3247a8" />
        <polyline points="192,344 192,336 180,336" fill="none" stroke="#111" strokeWidth={0.9} />
        <polygon points="181,333.5 176,336 181,338.5" fill="#111" />
        <line x1={152} y1={347} x2={192} y2={347} stroke="#8d9ae0" strokeWidth={1} />
        <rect x={163} y={343} width={3} height={8} fill="#3247a8" />
        <polygon points="189,344 193,347 189,350" fill="#3247a8" />
        <line x1={212} y1={344} x2={237} y2={344} stroke="#111" strokeWidth={1} />
      </svg>

      {/* section titles */}
      <T x={5} y={13.5} s={13} b>Skin Epidermis Analysis</T>
      <T x={3} y={379} s={13} b>Hair follicle Analysis</T>

      {/* panel letters */}
      <T x={5} y={33} s={13} b>A</T>
      <T x={113} y={33} s={13} b>B</T>
      <T x={268} y={33} s={13} b>C</T>
      <T x={5} y={204} s={13} b>D</T>
      <T x={238} y={205} s={13} b>E</T>
      <T x={437} y={205} s={13} b>F</T>
      <T x={5} y={402} s={13} b>G</T>
      <T x={142} y={402} s={13} b>H</T>
      <T x={472} y={402} s={13} b>I</T>
      <T x={8} y={587} s={13} b>J</T>
      <T x={143} y={587} s={13} b>K</T>
      <T x={385} y={587} s={13} b>L</T>

      {/* A */}
      <T x={55} y={43} s={9} a="center">RNA-Seq:</T>
      <T x={56} y={53} s={9} a="center">Downregulated Genes</T>
      <T x={60} y={74} s={9.5} b a="center" c="#2f86d3">2KO</T>
      <T x={60} y={82} s={7.5} a="center" c="#3d8fd6">({vennATotals[1]})</T>
      <T x={18} y={95} s={9.5} b a="center" c="#2ea34a">I53A</T>
      <T x={18} y={103} s={7.5} a="center" c="#2ea34a">({vennATotals[0]})</T>

      {/* B */}
      <T x={196} y={40} s={8.5} a="center">Selected GO terms:</T>
      <T x={195} y={52} s={8.5} a="center">2KO Downregulated Genes</T>

      {/* D */}
      {trackNames.map((n, k) => (
        <T key={'tn' + k} x={37} y={trackBaselines[k]} s={10} a="center" c={trackLabelColors[k]}>{n}</T>
      ))}
      {trackMax.map((m, k) => (
        <React.Fragment key={'tr' + k}>
          <T x={65} y={201 + 19 * k + 6} s={5.5} c="#444">[0-{m}]</T>
          <T x={153} y={201 + 19 * k + 6} s={5.5} c="#444">[0-{m}]</T>
        </React.Fragment>
      ))}
      <T x={108} y={358} s={8} a="center">Grhl2</T>
      <T x={186} y={358} s={8} a="center">Rgmb</T>
      <T x={226} y={341} s={5} a="center">5 kb</T>

      {/* E, F */}
      <T x={350} y={204} s={8.5} a="center">Ring1b ChIP</T>
      <T x={530} y={204} s={8.5} a="center">H3K27ac ChIP</T>

      {/* G */}
      <T x={72} y={416} s={9} a="center">RNA-Seq:</T>
      <T x={73} y={427} s={9} a="center">Downregulated Genes</T>
      <T x={79} y={444} s={9.5} b a="center" c="#2f86d3">2KO</T>
      <T x={79} y={451} s={7} a="center" c="#3d8fd6">({vennGTotals[1]})</T>
      <T x={25} y={468} s={9.5} b a="center" c="#2ea34a">I53A</T>
      <T x={25} y={476} s={7} a="center" c="#2ea34a">({vennGTotals[0]})</T>

      {/* I */}
      <T x={554} y={409} s={10} a="center" f={HUM}>HF-SC</T>
      <T x={554} y={422} s={8.5} a="center" f={HUM}>Ring1b ChIP</T>
      {/* J */}
      <T x={86} y={594} s={10} a="center" f={HUM}>HF-SC</T>
      <T x={83} y={609} s={9} a="center" f={HUM}>H3K27ac ChIP</T>
      {/* K */}
      <T x={260} y={594} s={10} a="center" f={HUM}>ORS</T>
      <T x={213} y={609} s={9} a="center" f={HUM}>Ring1b ChIP</T>
      <T x={328} y={609} s={9} a="center" f={HUM}>H3K27ac ChIP</T>
      {/* L */}
      <T x={512} y={594} s={10} a="center" f={HUM}>Mx</T>
      <T x={457} y={609} s={9} a="center" f={HUM}>Ring1b ChIP</T>
      <T x={573} y={609} s={9} a="center" f={HUM}>H3K27ac ChIP</T>
    </div>
  );
}
